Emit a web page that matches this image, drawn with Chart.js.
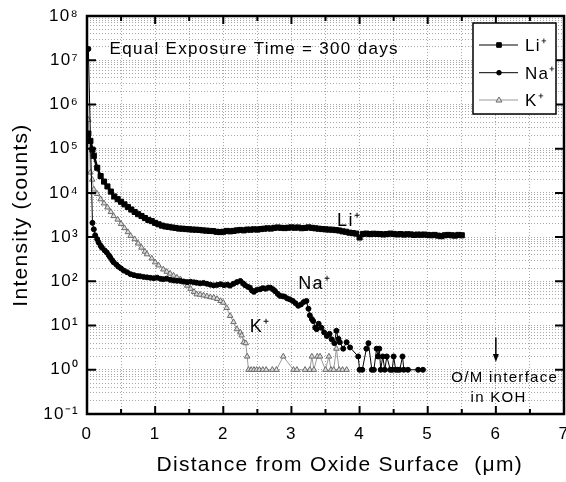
<!DOCTYPE html>
<html>
<head>
<meta charset="utf-8">
<script src="https://cdn.jsdelivr.net/npm/chart.js@4.4.0/dist/chart.umd.min.js"></script>
<style>
html,body{margin:0;padding:0;background:#fff;}
#wrap{width:566px;height:482px;}
</style>
</head>
<body>
<div id="wrap"><canvas id="c" width="566" height="482"></canvas></div>
<script>
// ---------- data ----------
const seriesLabels = ['Li⁺', 'Na⁺', 'K⁺'];

const liDepth = [0.02,0.05,0.08,0.10,
  0.15,0.20,0.25,0.30,0.35,0.40,0.45,0.50,0.55,0.60,
  0.65,0.70,0.75,0.80,0.85,0.90,0.95,1.00,1.05,1.10,
  1.15,1.20,1.25,1.30,1.35,1.40,1.45,1.50,1.55,1.60,
  1.65,1.70,1.75,1.80,1.85,1.90,1.95,2.00,2.05,2.10,
  2.15,2.20,2.25,2.30,2.35,2.40,2.45,2.50,2.55,2.60,
  2.65,2.70,2.75,2.80,2.85,2.90,2.95,3.00,3.05,3.10,
  3.15,3.20,3.25,3.30,3.35,3.40,3.45,3.50,3.55,3.60,
  3.65,3.70,3.75,3.80,3.85,3.90,3.95,4.00,4.05,4.10,
  4.15,4.20,4.25,4.30,4.35,4.40,4.45,4.50,4.55,4.60,
  4.65,4.70,4.75,4.80,4.85,4.90,4.95,5.00,5.05,5.10,
  5.15,5.20,5.25,5.30,5.35,5.40,5.45,5.50];
const liCounts = [220000,150000,95000,69000,
  37000,24000,18000,14000,10700,8300,7200,6300,5500,4800,
  4200,3700,3300,3000,2700,2450,2300,2100,1950,1820,
  1740,1700,1650,1610,1560,1550,1520,1500,1480,1470,
  1450,1420,1400,1380,1370,1320,1300,1320,1380,1350,
  1380,1420,1450,1420,1480,1470,1500,1480,1520,1550,
  1580,1560,1620,1650,1620,1600,1630,1660,1630,1650,
  1590,1610,1660,1620,1580,1550,1520,1500,1480,1470,
  1440,1410,1350,1320,1260,1230,1200,980,1180,1200,
  1170,1190,1180,1170,1150,1170,1200,1180,1150,1170,
  1140,1160,1150,1120,1140,1130,1140,1120,1100,1120,
  1080,1050,1100,1120,1100,1080,1120,1100];

const naDepth = [0.02,0.08,0.10,0.12,0.15,0.17,0.20,0.22,0.26,0.29,
  0.32,0.34,0.37,0.39,0.43,0.46,0.50,0.54,0.59,0.64,
  0.69,0.74,0.78,0.83,0.88,0.93,0.98,1.03,1.08,1.12,
  1.17,1.22,1.27,1.32,1.37,1.42,1.47,1.52,1.57,1.61,
  1.66,1.71,1.76,1.81,1.86,1.91,1.96,2.01,2.06,2.10,
  2.15,2.20,2.25,2.29,2.32,2.36,2.39,2.42,2.45,2.49,
  2.54,2.58,2.62,2.66,2.69,2.73,2.76,2.80,2.83,2.87,
  2.90,2.94,2.98,3.02,3.06,3.10,3.14,3.18,3.22,3.25,
  3.27,3.30,3.32,3.35,3.37,3.40,3.44,3.48,3.52,3.56,
  3.59,3.63,3.66,3.69,3.71,3.76,3.81,3.86,3.98,4.00,
  4.04,4.10,4.13,4.18,4.21,4.25,4.27,4.29,4.31,4.34,
  4.37,4.40,4.45,4.48,4.50,4.53,4.56,4.59,4.63,4.65,
  4.71,4.86,4.93];
const naCounts = [18000000,2100,1500,1100,900,760,640,575,500,450,
  390,350,300,270,240,215,195,175,160,145,
  138,132,130,126,123,120,118,121,114,112,
  115,108,105,103,102,99,96,98,95,93,
  90,92,88,84,81,83,86,82,84,80,
  88,96,102,90,82,75,72,62,58,64,
  66,70,68,72,72,66,60,52,47,46,
  45,41,39,36,32,28,30,34,36,24,
  17,14,12.6,9,8.3,11,8.9,7,5.8,6.5,
  4.9,4,7.6,5,4.2,3,4.2,3.2,2,1,
  1,3,4,1,1,3,2,3,1,2,
  1,2,1,1,2,1,1,1,2,1,
  1,1,1];

const kDepth = [0.02,0.05,0.076,0.10,0.15,0.20,0.25,0.30,0.35,0.39,
  0.45,0.50,0.55,0.60,0.64,0.70,0.75,0.80,0.85,0.88,
  0.95,1.00,1.05,1.12,1.17,1.22,1.27,1.32,1.37,1.42,
  1.47,1.52,1.57,1.61,1.66,1.71,1.76,1.81,1.86,1.91,
  1.96,2.00,2.05,2.10,2.15,2.20,2.25,2.27,2.30,2.33,
  2.35,2.37,2.41,2.45,2.49,2.53,2.58,2.63,2.72,2.78,
  2.88,3.03,3.08,3.20,3.27,3.30,3.33,3.38,3.42,3.50,
  3.55,3.58,3.62,3.66,3.70,3.75,3.81];
const kCounts = [450000,29000,20000,12000,9500,7200,5800,4700,3700,3000,
  2500,2000,1600,1300,1070,900,720,580,470,410,
  330,270,230,186,165,150,135,122,112,95,
  80,68,58,51,50,48,46,44,43,40,
  36,33,25,16.6,12,8.3,7,6,4.2,4,
  2,1,1,1,1,1,1,1,1,1,
  2,1,1,1,1,2,1,2,2,1,
  2,1,1,3,1,1,1];

const xTickLabels = ['0','1','2','3','4','5','6','7'];
const yDecades = [0.1,1,10,100,1000,10000,100000,1000000,10000000,100000000];
const yTickLabels = ['10⁻¹','10⁰','10¹','10²','10³','10⁴','10⁵','10⁶','10⁷','10⁸'];

// ---------- chart ----------
const FONT = "'Liberation Sans', Arial, Helvetica, sans-serif";
Chart.defaults.font.family = FONT;
Chart.defaults.color = '#000';

const toPts = (xs, ys) => xs.map((x, i) => ({x: x, y: ys[i]}));

// y grid positions at every log minor step
const yGridValues = [];
yDecades.forEach((d, i) => {
  if (i < yDecades.length - 1) { for (let k = 1; k <= 9; k++) yGridValues.push(k * d); }
  else yGridValues.push(d);
});

const decor = {
  id: 'decor',
  beforeDraw(chart) { chart.ctx.letterSpacing = '1.3px'; },
  afterDraw(chart) {
    const ctx = chart.ctx, a = chart.chartArea, xs = chart.scales.x, ys = chart.scales.y;
    ctx.save();
    ctx.letterSpacing = '1.3px';
    // inward tick marks
    ctx.strokeStyle = '#000';
    ctx.lineWidth = 2;
    xs.ticks.forEach(t => {
      if (t.value <= 0 || t.value >= 7) return;
      const px = xs.getPixelForValue(t.value);
      const len = Number.isInteger(t.value) ? 8 : 5;
      ctx.beginPath();
      ctx.moveTo(px, a.bottom); ctx.lineTo(px, a.bottom - len);
      ctx.moveTo(px, a.top); ctx.lineTo(px, a.top + len);
      ctx.stroke();
    });
    yDecades.forEach(d => {
      if (d <= 0.1 || d >= 1e8) return;
      const py = ys.getPixelForValue(d);
      ctx.beginPath();
      ctx.moveTo(a.left, py); ctx.lineTo(a.left + 9, py);
      ctx.moveTo(a.right, py); ctx.lineTo(a.right - 9, py);
      ctx.stroke();
    });
    // frame
    ctx.lineWidth = 2.5;
    ctx.strokeRect(a.left, a.top, a.right - a.left, a.bottom - a.top);

    // annotations
    ctx.fillStyle = '#000';
    ctx.textBaseline = 'alphabetic';
    const txt = (s, xv, yv, size, align) => {
      ctx.font = size + 'px ' + FONT;
      ctx.textAlign = align || 'left';
      ctx.fillText(s, xs.getPixelForValue(xv), ys.getPixelForValue(yv));
    };
    txt('Equal Exposure Time = 300 days', 0.33, 1.4e7, 17);
    txt(seriesLabels[0], 3.67, 1780, 18);
    txt(seriesLabels[1], 3.10, 66, 18);
    txt(seriesLabels[2], 2.39, 7, 18);
    txt('O/M interface', 6.13, 0.52, 15, 'center');
    txt('in KOH', 6.04, 0.186, 15, 'center');

    // arrow at the O/M interface
    const ax = xs.getPixelForValue(6);
    const ay0 = ys.getPixelForValue(5.4), ay1 = ys.getPixelForValue(1.5);
    ctx.lineWidth = 1.5;
    ctx.beginPath(); ctx.moveTo(ax, ay0); ctx.lineTo(ax, ay1 - 6); ctx.stroke();
    ctx.beginPath(); ctx.moveTo(ax - 3, ay1 - 8); ctx.lineTo(ax + 3, ay1 - 8); ctx.lineTo(ax, ay1); ctx.closePath(); ctx.fill();

    // legend box
    const bx = a.right - 91, by = a.top + 7, bw = 83, bh = 91;
    ctx.fillStyle = '#fff';
    ctx.fillRect(bx, by, bw, bh);
    ctx.lineWidth = 1.5; ctx.strokeStyle = '#000';
    ctx.strokeRect(bx, by, bw, bh);
    const rows = [22, 49.7, 77];
    chart.data.datasets.forEach((ds, i) => {
      const cy = by + rows[i];
      const mx = bx + 26;
      ctx.strokeStyle = ds.borderColor; ctx.lineWidth = 1;
      ctx.beginPath(); ctx.moveTo(bx + 6, cy); ctx.lineTo(bx + 45, cy); ctx.stroke();
      ctx.fillStyle = ds.pointBackgroundColor; ctx.strokeStyle = ds.pointBorderColor;
      ctx.beginPath();
      if (ds.pointStyle === 'rect') { ctx.rect(mx - 2.3, cy - 2.3, 4.6, 4.6); }
      else if (ds.pointStyle === 'circle') { ctx.arc(mx, cy, 2.3, 0, Math.PI * 2); }
      else { ctx.moveTo(mx, cy - 3); ctx.lineTo(mx + 3, cy + 2); ctx.lineTo(mx - 3, cy + 2); ctx.closePath(); }
      ctx.fill(); ctx.stroke();
      ctx.fillStyle = '#000';
      ctx.font = '17px ' + FONT;
      ctx.textAlign = 'left';
      ctx.fillText(ds.label, bx + 52, cy + 6);
    });
    ctx.restore();
  }
};

new Chart(document.getElementById('c'), {
  type: 'scatter',
  data: {
    datasets: [
      { label: seriesLabels[0], data: toPts(liDepth, liCounts), showLine: true,
        borderColor: '#000', borderWidth: 2.5, pointStyle: 'rect', pointRadius: 3.6,
        pointBackgroundColor: '#000', pointBorderColor: '#000', pointBorderWidth: 1 },
      { label: seriesLabels[1], data: toPts(naDepth, naCounts), showLine: true,
        borderColor: '#000', borderWidth: 1, pointStyle: 'circle', pointRadius: 2.5,
        pointBackgroundColor: '#000', pointBorderColor: '#000', pointBorderWidth: 1 },
      { label: seriesLabels[2], data: toPts(kDepth, kCounts), showLine: true,
        borderColor: '#9a9a9a', borderWidth: 1, pointStyle: 'triangle', pointRadius: 3.2,
        pointBackgroundColor: '#dcdcdc', pointBorderColor: '#6a6a6a', pointBorderWidth: 1 }
    ]
  },
  options: {
    responsive: false,
    animation: false,
    devicePixelRatio: 1,
    layout: { autoPadding: false, padding: { top: 16, right: 2, left: 0, bottom: 0 } },
    plugins: { legend: { display: false }, tooltip: { enabled: false } },
    scales: {
      x: {
        type: 'linear', min: 0, max: 7,
        afterFit: s => { s.height = 68; s.paddingLeft = 0; s.paddingRight = 0; },
        ticks: { stepSize: 0.5, autoSkip: false, maxRotation: 0, padding: 10,
          font: { size: 17 },
          callback: v => Number.isInteger(v) ? xTickLabels[v] : '' },
        grid: { color: '#a8a8a8', lineWidth: 1, drawTicks: false },
        border: { display: false, dash: [1, 2] },
        title: { display: true, text: '    Distance from Oxide Surface  (μm)',
          font: { size: 21 }, padding: { top: 0, bottom: 4 } }
      },
      y: {
        type: 'logarithmic', min: 0.1, max: 1e8,
        afterFit: s => { s.width = 87; s.paddingTop = 0; s.paddingBottom = 0; },
        afterBuildTicks: s => { s.ticks = yGridValues.map(v => ({ value: v })); },
        ticks: { autoSkip: false, padding: 8, font: { size: 17 },
          callback: v => {
            const i = yDecades.findIndex(d => Math.abs(Math.log10(d) - Math.log10(v)) < 1e-6);
            return i >= 0 ? yTickLabels[i] : '';
          } },
        grid: { color: '#a8a8a8', lineWidth: 1, drawTicks: false },
        border: { display: false, dash: [1, 2] },
        title: { display: true, text: 'Intensity (counts)', font: { size: 21 },
          padding: { top: 9, bottom: 0 } }
      }
    }
  },
  plugins: [decor]
});
</script>
</body>
</html>
